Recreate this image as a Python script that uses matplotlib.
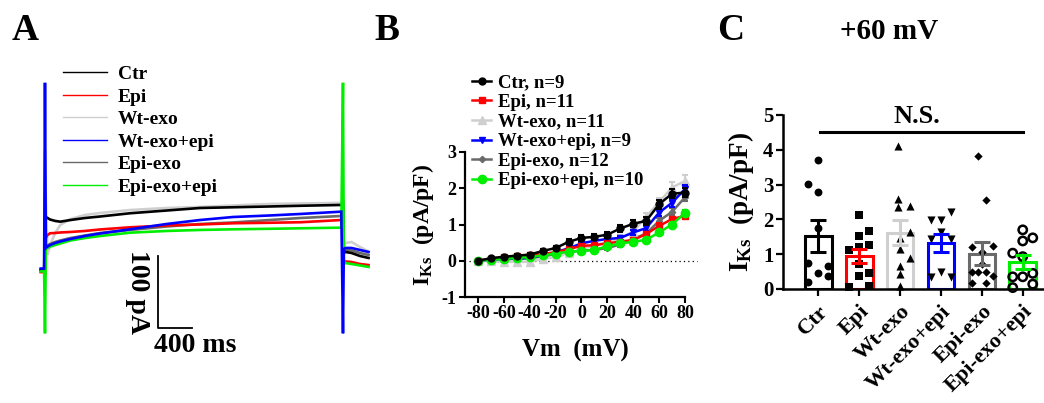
"""IKs traces, I-V curves and +60 mV bar chart (three panels)."""

import matplotlib

matplotlib.use("Agg")
import matplotlib.pyplot as plt
import numpy as np
from matplotlib.lines import Line2D

W, H = 1044, 403

GROUPS = ["Ctr", "Epi", "Wt-exo", "Wt-exo+epi", "Epi-exo", "Epi-exo+epi"]
COLORS = ["#000000", "#ff0000", "#cfcfcf", "#0000ff", "#6a6a6a", "#00ee00"]

# ---- panel A: representative current traces (pA vs ms) ----
T_PRE = [-50, -10]
T_PULSE = [10, 30, 60, 120, 180, 300, 470, 650, 1000, 1430, 1820, 2210, 2640, 3000, 3480]
T_TAIL = [3510, 3530, 3600, 3700, 3800]
PULSE_END = 3500

PRE_CTR = [0, 0]
PRE_EPI = [-3, -3]
PRE_WT = [1, 1]
PRE_WT_EPI = [2, 2]
PRE_EPI_EXO = [0, 0]
PRE_EPI_EXO_EPI = [-2, -2]

ON_PEAK = [75, -7, 167, 260, 32, -88]
OFF_PEAK = [92, 70, 95, -88, 76, 260]

PULSE_CTR = [73.6, 72.2, 70.1, 68.1, 67.1, 69.4, 72.2, 74.3, 78.8, 82.6, 86.1, 87.1, 88.2, 89.2, 90.3]
PULSE_EPI = [44.4, 48.6, 51.0, 51.4, 52.1, 52.8, 54.2, 56.3, 59.3, 61.8, 63.2, 64.9, 65.6, 66.3, 69.4]
PULSE_WT = [97.0, 20.8, 34.7, 51.4, 62.5, 70.8, 76.4, 79.2, 83.3, 86.1, 87.5, 89.6, 91.7, 92.4, 93.1]
PULSE_WT_EPI = [30.6, 32.6, 34.7, 37.5, 39.6, 43.1, 47.2, 50.7, 56.5, 63.9, 69.4, 73.6, 75.7, 77.8, 81.0]
PULSE_EPI_EXO = [31.9, 34.0, 36.1, 38.9, 41.0, 44.4, 47.9, 51.4, 55.6, 60.4, 63.9, 66.0, 69.4, 72.2, 75.0]
PULSE_EPI_EXO_EPI = [29.2, 30.6, 32.4, 34.7, 36.8, 41.0, 44.4, 47.2, 51.8, 54.2, 55.6, 56.5, 57.2, 57.9, 58.8]

TAIL_CTR = [23.6, 25.0, 23.6, 19.4, 16.7]
TAIL_EPI = [9.7, 11.8, 11.1, 8.3, 6.9]
TAIL_WT = [34.7, 37.5, 38.9, 31.9, 25.7]
TAIL_WT_EPI = [29.2, 30.6, 30.6, 27.8, 25.0]
TAIL_EPI_EXO = [26.4, 27.8, 27.1, 23.6, 20.8]
TAIL_EPI_EXO_EPI = [8.3, 9.7, 8.3, 6.3, 4.2]

# ---- panel B: I-V relationship (pA/pF) ----
VM = [-80, -70, -60, -50, -40, -30, -20, -10, 0, 10, 20, 30, 40, 50, 60, 70, 80]
B_LABELS = ["Ctr, n=9", "Epi, n=11", "Wt-exo, n=11", "Wt-exo+epi, n=9",
            "Epi-exo, n=12", "Epi-exo+epi, n=10"]
IV_CTR = [0, 0.07, 0.11, 0.14, 0.17, 0.27, 0.35, 0.52, 0.63, 0.66, 0.72, 0.89, 1.02, 1.1, 1.56, 1.85, 1.88]
IV_EPI = [0, 0.06, 0.1, 0.14, 0.16, 0.19, 0.23, 0.32, 0.41, 0.43, 0.48, 0.53, 0.57, 0.74, 0.96, 1.15, 1.24]
IV_WT = [0, -0.02, -0.03, -0.03, -0.03, 0.05, 0.1, 0.22, 0.32, 0.42, 0.52, 0.62, 0.8, 1.22, 1.62, 2.02, 2.2]
IV_WT_EPI = [0, 0.03, 0.05, 0.06, 0.08, 0.15, 0.24, 0.34, 0.48, 0.55, 0.6, 0.63, 0.78, 0.9, 1.33, 1.6, 1.98]
IV_EPI_EXO = [0, 0.02, 0.04, 0.05, 0.07, 0.12, 0.18, 0.24, 0.28, 0.3, 0.35, 0.45, 0.6, 0.75, 1.1, 1.35, 1.75]
IV_EPI_EXO_EPI = [0, 0.03, 0.05, 0.08, 0.1, 0.15, 0.2, 0.25, 0.27, 0.3, 0.4, 0.48, 0.52, 0.58, 0.78, 1.0, 1.32]

SEM_CTR = [0.03, 0.03, 0.03, 0.04, 0.04, 0.05, 0.05, 0.07, 0.08, 0.08, 0.08, 0.09, 0.1, 0.1, 0.12, 0.13, 0.13]
SEM_EPI = [0.02, 0.02, 0.02, 0.03, 0.03, 0.03, 0.04, 0.04, 0.05, 0.05, 0.05, 0.05, 0.06, 0.06, 0.07, 0.07, 0.07]
SEM_WT = [0.02, 0.03, 0.03, 0.03, 0.04, 0.04, 0.05, 0.05, 0.06, 0.06, 0.07, 0.08, 0.09, 0.1, 0.12, 0.14, 0.17]
SEM_WT_EPI = [0.02, 0.02, 0.03, 0.03, 0.03, 0.04, 0.04, 0.05, 0.05, 0.06, 0.06, 0.06, 0.07, 0.08, 0.1, 0.11, 0.12]
SEM_EPI_EXO = [0.02, 0.02, 0.02, 0.03, 0.03, 0.03, 0.04, 0.04, 0.04, 0.05, 0.05, 0.06, 0.07, 0.08, 0.09, 0.1, 0.11]
SEM_EPI_EXO_EPI = [0.02, 0.02, 0.02, 0.02, 0.03, 0.03, 0.03, 0.04, 0.04, 0.04, 0.05, 0.05, 0.05, 0.06, 0.06, 0.07, 0.07]

# ---- panel C: IKs at +60 mV, individual cells ----
C_MEAN = [1.52, 0.95, 1.62, 1.31, 1.02, 0.77]
C_SEM = [0.45, 0.21, 0.36, 0.26, 0.32, 0.2]
PTS_CTR = [3.71, 3.01, 2.80, 1.76, 0.76, 0.66, 0.47, 0.37, 0.19]
PTS_EPI = [2.13, 1.68, 1.53, 1.26, 1.22, 1.12, 0.72, 0.45, 0.37, 0.07, 0.10]
PTS_WT = [4.11, 2.60, 2.36, 2.39, 1.65, 1.46, 1.14, 0.88, 0.66, 0.42, 0.10]
PTS_WT_EPI = [1.98, 1.98, 2.22, 1.65, 1.44, 1.44, 0.35, 0.48, 0.35]
PTS_EPI_EXO = [3.83, 2.56, 1.21, 1.24, 1.07, 0.50, 0.50, 0.50, 0.38, 0.17, 0.17, 0.72]
PTS_EPI_EXO_EPI = [1.70, 1.47, 1.38, 1.03, 0.93, 0.45, 0.35, 0.35, 0.14, 0.04]
NS_LEVEL = 4.52

# swarm columns (layout only)
COLS_CTR = [0, -1, 0, 0, -1, 1, 0, 1, -1]
COLS_EPI = [0, 1, 0, 1, 0, -1, 0, 1, 0, -1, 1]
COLS_WT = [-0.2, -0.2, -0.2, 1, 1, 0, 0, 1, 0, 0, 0]
COLS_WT_EPI = [-1, 0, 1, 0, -1, 1, -1, 0, 1]
COLS_EPI_EXO = [-0.35, 0.4, -1, 1.1, 0, -1, -0.35, 0.4, 1.1, -1, 0.4, 0]
COLS_EPI_EXO_EPI = [0, 1, 0, -1, 0, 1, -1, 0, 1, -1]

plt.rcParams.update({
    "font.family": "Liberation Serif",
    "font.weight": "bold",
    "axes.labelweight": "bold",
    "axes.unicode_minus": False,
    "mathtext.fontset": "custom",
    "mathtext.rm": "Liberation Serif:bold",
    "mathtext.it": "Liberation Serif:bold",
    "mathtext.bf": "Liberation Serif:bold",
})


def fx(x):
    return x / W


def fy(y):
    return 1 - y / H


fig = plt.figure(figsize=(W / 100, H / 100), dpi=100)

# panel letters and title
for letter, x in [("A", 12), ("B", 374), ("C", 717)]:
    fig.text(fx(x), fy(40), letter, fontsize=27, fontweight="bold", va="baseline")
fig.text(fx(889), fy(39), "+60 mV", fontsize=21, fontweight="bold", ha="center", va="baseline")

# ---------------- panel A ----------------
ax_a = fig.add_axes([fx(30), fy(345), 345 / W, 290 / H])
ax_a.set_xlim(-176, 3876)
ax_a.set_ylim(-104.2, 298.6)
ax_a.axis("off")

pre = [PRE_CTR, PRE_EPI, PRE_WT, PRE_WT_EPI, PRE_EPI_EXO, PRE_EPI_EXO_EPI]
pulse = [PULSE_CTR, PULSE_EPI, PULSE_WT, PULSE_WT_EPI, PULSE_EPI_EXO, PULSE_EPI_EXO_EPI]
tail = [TAIL_CTR, TAIL_EPI, TAIL_WT, TAIL_WT_EPI, TAIL_EPI_EXO, TAIL_EPI_EXO_EPI]
trace_z = [4, 5, 2, 7, 3, 6]
for i, name in enumerate(GROUPS):
    t = T_PRE + [0] + T_PULSE + [PULSE_END] + T_TAIL
    cur = pre[i] + [ON_PEAK[i]] + pulse[i] + [OFF_PEAK[i]] + tail[i]
    ax_a.plot(t, cur, color=COLORS[i], lw=1.9, zorder=trace_z[i], label=name,
              solid_joinstyle="miter")

# scale bar: 400 ms x 100 pA
ax_a.plot([1327, 1327, 1727], [19.4, -80.6, -80.6], color="black", lw=1.3)
ax_a.text(1327 - 240, -30, "100 pA", rotation=-90, fontsize=20, ha="center", va="center")
ax_a.text(1280, -87, "400 ms", fontsize=20, ha="left", va="top")

handles_a = [Line2D([], [], color=c, lw=1.0) for c in COLORS]
ax_a.legend(handles_a, GROUPS, loc="upper left", bbox_to_anchor=(fx(49), fy(52)),
            bbox_transform=fig.transFigure, frameon=False, fontsize=14,
            handlelength=2.3, handletextpad=0.55, labelspacing=0.25, borderpad=0.2)

# ---------------- panel B ----------------
ax_b = fig.add_axes([fx(465), fy(297), 220 / W, 145 / H])
ax_b.set_xlim(-90, 80)
ax_b.set_ylim(-1, 3)
ax_b.plot([-87, 89], [0, 0], ls=(0, (1, 2.5)), color="black", lw=0.9, clip_on=False, zorder=1)

iv = [IV_CTR, IV_EPI, IV_WT, IV_WT_EPI, IV_EPI_EXO, IV_EPI_EXO_EPI]
sem = [SEM_CTR, SEM_EPI, SEM_WT, SEM_WT_EPI, SEM_EPI_EXO, SEM_EPI_EXO_EPI]
markers = ["o", "s", "^", "v", "D", "o"]
msizes = [5, 5, 5.5, 5, 3.2, 6]
iv_z = [12, 10, 8, 9, 7, 11]
handles_b = []
for i in range(6):
    ax_b.errorbar(VM, iv[i], yerr=sem[i], fmt="none", ecolor=COLORS[i], elinewidth=1.5,
                  capsize=2.5, capthick=1.5, zorder=iv_z[i], clip_on=False)
    ln, = ax_b.plot(VM, iv[i], color=COLORS[i], marker=markers[i], ms=msizes[i], lw=1.8,
                    zorder=iv_z[i], clip_on=False)
    handles_b.append(ln)

for s in ["top", "right"]:
    ax_b.spines[s].set_visible(False)
for s in ["left", "bottom"]:
    ax_b.spines[s].set_linewidth(1.6)
ax_b.set_xticks([-80, -60, -40, -20, 0, 20, 40, 60, 80])
ax_b.set_yticks([-1, 0, 1, 2, 3])
ax_b.tick_params(width=1.5, length=4, labelsize=13, pad=2)
ax_b.set_xlabel("Vm  (mV)", fontsize=18, labelpad=12)
ax_b.set_ylabel(r"I$_{\mathrm{Ks}}$  (pA/pF)", fontsize=17, labelpad=4)
ax_b.legend(handles_b, B_LABELS, loc="upper left", bbox_to_anchor=(fx(461), fy(63)),
            bbox_transform=fig.transFigure, frameon=False, fontsize=13.5,
            handlelength=1.0, handletextpad=0.4, labelspacing=0.13, borderpad=0.1)

# ---------------- panel C ----------------
ax_c = fig.add_axes([fx(783), fy(289), 261 / W, 174 / H])
x = np.arange(len(GROUPS))
ax_c.set_xlim(-0.865, 5.52)
ax_c.set_ylim(0, 5)
ax_c.bar(x, C_MEAN, width=0.65, facecolor="white", edgecolor=COLORS, lw=2.2, zorder=2)

pts = [PTS_CTR, PTS_EPI, PTS_WT, PTS_WT_EPI, PTS_EPI_EXO, PTS_EPI_EXO_EPI]
cols = [COLS_CTR, COLS_EPI, COLS_WT, COLS_WT_EPI, COLS_EPI_EXO, COLS_EPI_EXO_EPI]
c_markers = ["o", "s", "^", "v", "D", "o"]
c_sizes = [32, 30, 34, 34, 18, 36]
for i in range(6):
    xs = x[i] + 0.245 * np.array(cols[i])
    if i == 5:
        ax_c.scatter(xs, pts[i], s=c_sizes[i], marker="o", facecolors="none",
                     edgecolors="black", linewidths=1.8, zorder=4, clip_on=False)
    else:
        ax_c.scatter(xs, pts[i], s=c_sizes[i], marker=c_markers[i], color="black",
                     linewidths=0, zorder=4, clip_on=False)
    ax_c.errorbar(x[i], C_MEAN[i], yerr=C_SEM[i], fmt="none", ecolor=COLORS[i],
                  elinewidth=2.2, capsize=6, capthick=2.2, zorder=5)

ax_c.plot([0.05, 5.0], [NS_LEVEL, NS_LEVEL], color="black", lw=2.2, clip_on=False)
ax_c.text(2.4, NS_LEVEL + 0.12, "N.S.", fontsize=19, ha="center", va="bottom")

for s in ["top", "right"]:
    ax_c.spines[s].set_visible(False)
for s in ["left", "bottom"]:
    ax_c.spines[s].set_linewidth(1.8)
ax_c.set_xticks(x)
ax_c.set_xticklabels(GROUPS, rotation=45, ha="right", rotation_mode="anchor")
ax_c.set_yticks([0, 1, 2, 3, 4, 5])
ax_c.tick_params(width=1.6, length=5, labelsize=15, pad=2)
ax_c.tick_params(axis="x", labelsize=16, pad=4)
ax_c.set_ylabel(r"I$_{\mathrm{Ks}}$  (pA/pF)", fontsize=19.5, labelpad=5)

fig.savefig("out.png", dpi=100)
